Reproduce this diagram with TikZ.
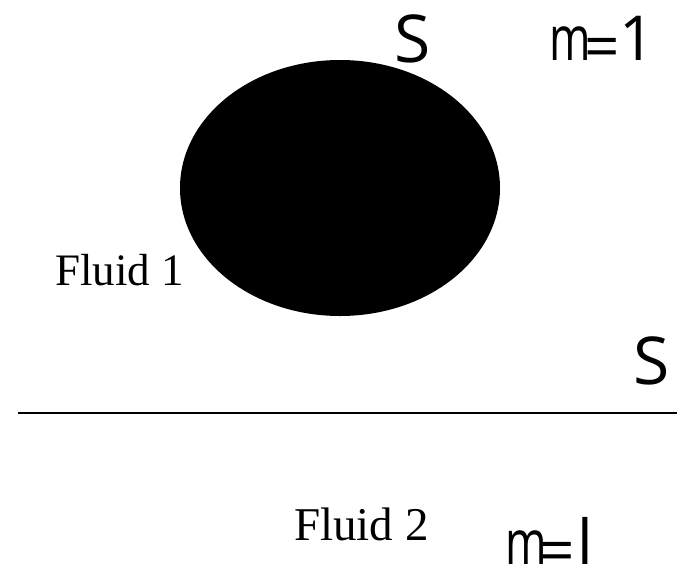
\documentclass[tikz,border=0pt]{standalone}
\usepackage{fontspec}
\setmainfont{Liberation Serif}
\newfontfamily\sansS{Open Sans}
\newfontfamily\sansN[FakeStretch=0.72]{Open Sans}
\begin{document}
\begin{tikzpicture}[x=1pt,y=-1pt,
  sans/.style={inner sep=0pt,anchor=base,font=\sansS\fontsize{62}{62}\selectfont},
  narrow/.style={inner sep=0pt,anchor=base,font=\sansN\fontsize{62}{62}\selectfont},
  serif/.style={inner sep=0pt,anchor=base west,font=\fontsize{45}{45}\selectfont}]
\useasboundingbox (0,0) rectangle (683,566);
\fill[black] (340,188) ellipse [x radius=160, y radius=128];
\draw[line width=2.2pt] (18,412.7) -- (677,412.7);
\node[sans,font=\sansS\fontsize{66}{66}\selectfont] (s1) at (413,62) {S};
\node[sans,font=\sansS\fontsize{66}{66}\selectfont] (s2) at (652,384) {S};
\node[narrow] (m1) at (570,60) {m};
\node[sans] (e1) at (602,68) {=};
\node[sans] (o1) at (637,60) {1};
\node[narrow] (m2) at (526,564) {m};
\node[sans] (e2) at (557,572) {=};
\node[sans] (o2) at (585.5,564) {l};
\node[serif] (f1) at (55,285) {Fluid 1};
\node[serif,font=\fontsize{47}{47}\selectfont] (f2) at (294,540) {Fluid 2};
\end{tikzpicture}
\end{document}
